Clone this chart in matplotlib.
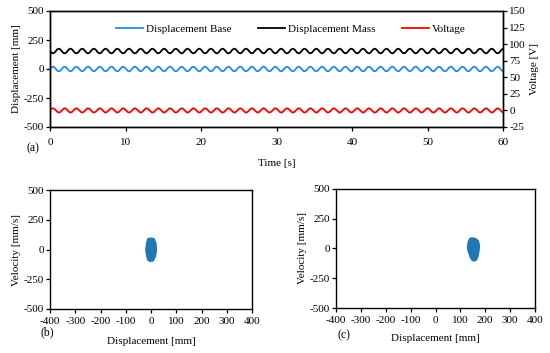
import numpy as np
import matplotlib.pyplot as plt

plt.rcParams['font.family'] = ['Liberation Serif', 'DejaVu Serif']
plt.rcParams['font.size'] = 8
plt.rcParams['axes.unicode_minus'] = False

# ==============================================================================
# DATA
# ==============================================================================
period    = 1.55          # s, one oscillation
n_cycles  = 39
# one cycle of each signal, 16 samples per cycle
base_cycle = [0, 7.7, 14.1, 18.5, 20, 18.5, 14.1, 7.7,
              0, -7.7, -14.1, -18.5, -20, -18.5, -14.1, -7.7]           # mm
mass_cycle = [155, 147, 141, 137, 135, 137, 141, 147,
              155, 163, 169, 173, 175, 173, 169, 163]                    # mm
volt_cycle = [0, 1.2, 2.3, 3.0, 3.2, 3.0, 2.3, 1.2,
              0, -1.2, -2.3, -3.0, -3.2, -3.0, -2.3, -1.2]               # V

# phase portrait outlines (displacement mm, velocity mm/s)
blob_b_x = [-1, 12, 20, 22, 18, 9, -6, -14, -18, -21, -18, -13]
blob_b_v = [97, 92, 52, -4, -60, -97, -100, -86, -46, -4, 52, 90]
blob_c_x = [145, 160, 172, 177, 176, 172, 166, 156, 147, 140, 132, 128, 131, 137]
blob_c_v = [90, 86, 66, 28, -10, -60, -95, -106, -100, -75, -30, 8, 55, 82]

disp_ticks = [-500, -250, 0, 250, 500]
volt_ticks = [-25, 0, 25, 50, 75, 100, 125, 150]
time_ticks = [0, 10, 20, 30, 40, 50, 60]
pp_xticks  = [-400, -300, -200, -100, 0, 100, 200, 300, 400]

base = np.tile(base_cycle, n_cycles)
mass = np.tile(mass_cycle, n_cycles)
volt = np.tile(volt_cycle, n_cycles)
t = np.arange(len(base)) * period / len(base_cycle)

c_base = "#1E8FE0"
c_blob = "#1f77b4"

W, H = 550, 353
fig = plt.figure(figsize=(W / 100, H / 100), dpi=100)

def px_axes(l, t_, r, b):
    return fig.add_axes([l / W, 1 - b / H, (r - l) / W, (b - t_) / H])

def style(ax):
    ax.tick_params(direction='out', length=3, width=0.9, pad=1.5, labelsize=8)
    for s in ax.spines.values():
        s.set_linewidth(1.0)

# ==============================================================================
# (a) time series
# ==============================================================================
ax = px_axes(50, 11, 503, 127)
l1, = ax.plot(t, base, color=c_base, lw=1.3, label="Displacement Base")
l2, = ax.plot(t, mass, color="black", lw=1.3, label="Displacement Mass")
ax.set_xlim(0, 60)
ax.set_ylim(-500, 500)
ax.set_xticks(time_ticks)
ax.set_yticks(disp_ticks)
ax.set_ylabel("Displacement [mm]", labelpad=2)
style(ax)
ax.tick_params(axis='x', pad=5)

ax2 = ax.twinx()
l3, = ax2.plot(t, volt, color="#FF0000", lw=1.3, label="Voltage")
ax2.set_ylim(-25, 150)
ax2.set_yticks(volt_ticks)
ax2.set_ylabel("Voltage [V]", labelpad=3)
style(ax2)

fig.legend([l1, l2, l3], [l.get_label() for l in (l1, l2, l3)],
           loc='center', bbox_to_anchor=(291 / W, 1 - 29 / H), ncol=3,
           frameon=False, handlelength=2.4, handletextpad=0.3,
           columnspacing=2.4, fontsize=8)

fig.text(33 / W, 1 - 148 / H, "(a)", ha='center', va='center', fontsize=8.5)
fig.text(277 / W, 1 - 163 / H, "Time [s]", ha='center', va='center')

# ==============================================================================
# (b), (c) phase portraits
# ==============================================================================
for (l, t_, r, b), bx, bv, tag, tagpos, lpad in [
        ((50, 190, 252, 309), blob_b_x, blob_b_v, "(b)", (47, 332), 8),
        ((336, 189, 535, 308), blob_c_x, blob_c_v, "(c)", (344, 335), 6)]:
    axp = px_axes(l, t_, r, b)
    axp.fill(bx, bv, color=c_blob, lw=0.8)
    axp.set_xlim(-400, 400)
    axp.set_ylim(-500, 500)
    axp.set_xticks(pp_xticks)
    axp.set_yticks(disp_ticks)
    axp.set_xlabel("Displacement [mm]", labelpad=lpad)
    axp.set_ylabel("Velocity [mm/s]", labelpad=2)
    style(axp)
    axp.tick_params(axis='x', pad=3)
    fig.text(tagpos[0] / W, 1 - tagpos[1] / H, tag, ha='center', va='center',
             fontsize=8.5)

fig.savefig("out.png", dpi=100)
